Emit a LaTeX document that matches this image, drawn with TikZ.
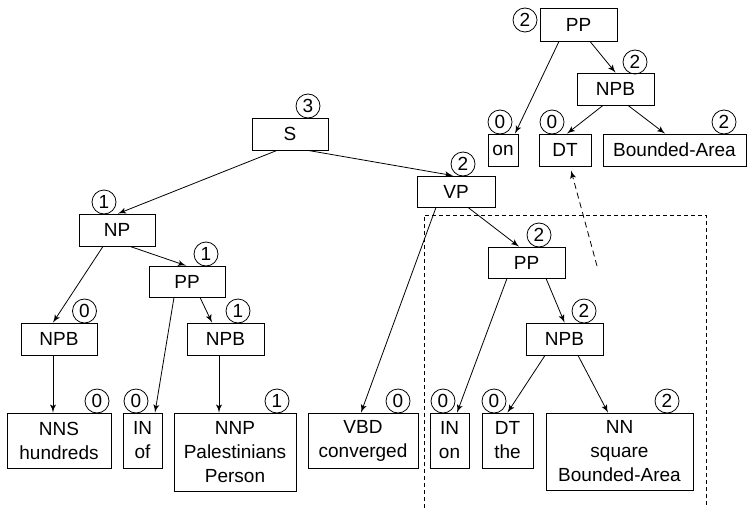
\documentclass[tikz,border=0pt]{standalone}
\usepackage{fontspec}
\setmainfont{Liberation Sans}
\usepackage{tikz}
\usetikzlibrary{shapes,arrows,positioning,calc}

\begin{document}
\begin{tikzpicture}[x=0.5pt, y=-0.5pt, >=latex', font=\fontsize{9.5}{12}\selectfont]
\tikzset{
tag/.style      = {draw, shape=rectangle, inner sep=0pt, align=center},
score/.style    = {draw, shape=circle, inner sep=0pt, minimum size=12pt},
edge/.style     = {->, thin},
frame/.style    = {thin, dash pattern=on 2pt off 1.5pt},
link/.style     = {->, thin, dash pattern=on 3pt off 2pt},
}
    \useasboundingbox (0,0) rectangle (747,508);

    % Main nodes
    \node [tag, minimum width=38.5pt, minimum height=16.5pt] (ppTop)  at (578.5,24.5) {PP};
    \node [tag, minimum width=38.5pt, minimum height=16pt]   (npbTop) at (615.5,89)   {NPB};
    \node [tag, minimum width=15pt,   minimum height=16pt]   (onTop)  at (503,150)    {on};
    \node [tag, minimum width=26pt,   minimum height=16pt]   (dtTop)  at (565,150)    {DT};
    \node [tag, minimum width=71.5pt, minimum height=16pt]   (baTop)  at (674.5,150)  {Bounded-Area};

    \node [tag, minimum width=38pt,   minimum height=16pt]   (s)      at (290,134)    {S};
    \node [tag, minimum width=39pt,   minimum height=15.5pt] (vp)     at (456,191.5)  {VP};
    \node [tag, minimum width=38pt,   minimum height=16pt]   (np)     at (117,230)    {NP};
    \node [tag, minimum width=38pt,   minimum height=15.5pt] (ppL)    at (187,281.5)  {PP};
    \node [tag, minimum width=38pt,   minimum height=16pt]   (npbL)   at (59,339)     {NPB};
    \node [tag, minimum width=38.5pt, minimum height=16pt]   (npbM)   at (225.5,339)  {NPB};
    \node [tag, minimum width=38.5pt, minimum height=15.5pt] (ppR)    at (526.5,262.5){PP};
    \node [tag, minimum width=38.5pt, minimum height=16pt]   (npbR)   at (564.5,339)  {NPB};

    \node [tag, minimum width=52pt,   minimum height=27.5pt] (nns)    at (59,440.5)   {NNS\\hundreds};
    \node [tag, minimum width=19.5pt, minimum height=27.5pt] (inOf)   at (142.5,440.5){IN\\of};
    \node [tag, minimum width=61pt,   minimum height=39pt]   (nnp)    at (235,452)    {NNP\\Palestinians\\Person};
    \node [tag, minimum width=55pt,   minimum height=27.5pt] (vbd)    at (363,440.5)  {VBD\\converged};
    \node [tag, minimum width=19.5pt, minimum height=27.5pt] (inOn)   at (449.5,440.5){IN\\on};
    \node [tag, minimum width=25.5pt, minimum height=27.5pt] (dtThe)  at (507.5,440.5){DT\\the};
    \node [tag, minimum width=73.5pt, minimum height=38.5pt] (nn)     at (619.5,451.5){NN\\square\\Bounded-Area};

    % Scores
    \node [score] (cPpTop)  at (525,20)   {2};
    \node [score] (cNpbTop) at (635,62)   {2};
    \node [score] (cOnTop)  at (500,122)  {0};
    \node [score] (cDtTop)  at (552,122)  {0};
    \node [score] (cBaTop)  at (724,122)  {2};
    \node [score] (cS)      at (308,106)  {3};
    \node [score] (cVp)     at (463,164)  {2};
    \node [score] (cNp)     at (104,202)  {1};
    \node [score] (cPpL)    at (206,254)  {1};
    \node [score] (cNpbL)   at (84.5,311) {0};
    \node [score] (cNpbM)   at (238,311)  {1};
    \node [score] (cPpR)    at (539,235)  {2};
    \node [score] (cNpbR)   at (584,311)  {2};
    \node [score] (cNns)    at (97,401)   {0};
    \node [score] (cInOf)   at (136,401)  {0};
    \node [score] (cNnp)    at (277,401)  {1};
    \node [score] (cVbd)    at (398,401)  {0};
    \node [score] (cInOn)   at (443,401)  {0};
    \node [score] (cDtThe)  at (494,401)  {0};
    \node [score] (cNn)     at (667,401)  {2};

    % Main edges
    \draw [edge] ($(s.south)+(-13,0)$)      -- ($(np.north)+(1,0)$);
    \draw [edge] ($(s.south)+(18,0)$)       -- ($(vp.north)+(-3,0)$);
    \draw [edge] ($(np.south)+(-14,0)$)     -- ($(npbL.north)+(-6,0)$);
    \draw [edge] ($(np.south)+(13,0)$)      -- ($(ppL.north)+(-1,0)$);
    \draw [edge] ($(ppL.south)+(-13,0)$)    -- ($(inOf.north)+(12.5,0)$);
    \draw [edge] ($(ppL.south)+(13,0)$)     -- ($(npbM.north)+(-13.5,0)$);
    \draw [edge] ($(npbL.south)+(-6,0)$)    -- ($(nns.north)+(-6,0)$);
    \draw [edge] ($(npbM.south)+(-6.5,0)$)  -- ($(nnp.north)+(-16,0)$);
    \draw [edge] ($(vp.south)+(-20,0)$)     -- ($(vbd.north)+(-2,0)$);
    \draw [edge] ($(vp.south)+(12,0)$)      -- ($(ppR.north)+(-7.5,0)$);
    \draw [edge] ($(ppR.south)+(-19.5,0)$)  -- ($(inOn.north)+(7.5,0)$);
    \draw [edge] ($(ppR.south)+(19.5,0)$)   -- (npbR.north);
    \draw [edge] ($(npbR.south)+(-19.5,0)$) -- (dtThe.north);
    \draw [edge] ($(npbR.south)+(13.5,0)$)  -- ($(nn.north)+(-11.5,0)$);

    \draw [edge] ($(ppTop.south)+(-19.5,0)$)  -- ($(onTop.north)+(12,0)$);
    \draw [edge] ($(ppTop.south)+(11.5,0)$)   -- (npbTop.north);
    \draw [edge] ($(npbTop.south)+(-12.5,0)$) -- ($(dtTop.north)+(2,0)$);
    \draw [edge] ($(npbTop.south)+(12.5,0)$)  -- ($(baTop.north)+(-9.5,0)$);

    % Extracted part
    \coordinate (cut) at (597,266);
    \draw [frame] (424,508) -- (424,215) -- (706,215) -- (706,508);
    \draw [link]  (cut) -- ($(dtTop.south)+(6,4)$);

\end{tikzpicture}
\end{document}
